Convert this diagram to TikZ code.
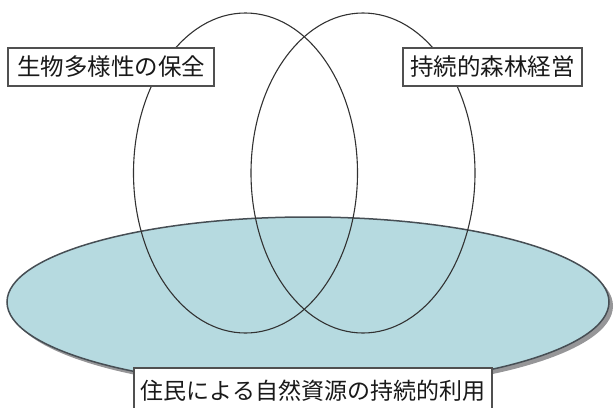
\documentclass[tikz,border=0pt]{standalone}
\usepackage{fontspec}
\setmainfont{Noto Sans CJK JP}
\definecolor{pond}{RGB}{182,218,224}
\definecolor{pondline}{RGB}{70,78,84}
\definecolor{shadowgray}{RGB}{150,150,152}
\definecolor{ringline}{RGB}{50,50,50}
\definecolor{boxline}{RGB}{80,80,80}
\tikzset{
  ring/.style={draw=ringline, line width=1.1pt},
  labelbox/.style={draw=boxline, line width=1.2pt, fill=white, inner sep=0pt,
    font=\fontsize{23.5}{28}\selectfont, text=black!90}
}
\begin{document}
\begin{tikzpicture}[x=1pt,y=-1pt]
\useasboundingbox (0,0) rectangle (615,407);
% base ellipse with shadow
\fill[shadowgray] (312,306) ellipse [x radius=301, y radius=85];
\filldraw[fill=pond, draw=pondline, line width=1.5pt] (308,302) ellipse [x radius=301, y radius=85];
% two vertical ellipses
\draw[ring] (245.5,173) ellipse [x radius=112, y radius=160];
\draw[ring] (363,173) ellipse [x radius=112, y radius=160];
% labels
\node[labelbox, minimum width=206pt, minimum height=38pt] (bio) at (111,67) {生物多様性の保全};
\node[labelbox, minimum width=179pt, minimum height=38pt] (forest) at (492.5,67) {持続的森林経営};
\node[labelbox, minimum width=358pt, minimum height=46pt, font=\fontsize{23}{28}\selectfont] (people) at (313,391) {住民による自然資源の持続的利用};
\end{tikzpicture}
\end{document}
